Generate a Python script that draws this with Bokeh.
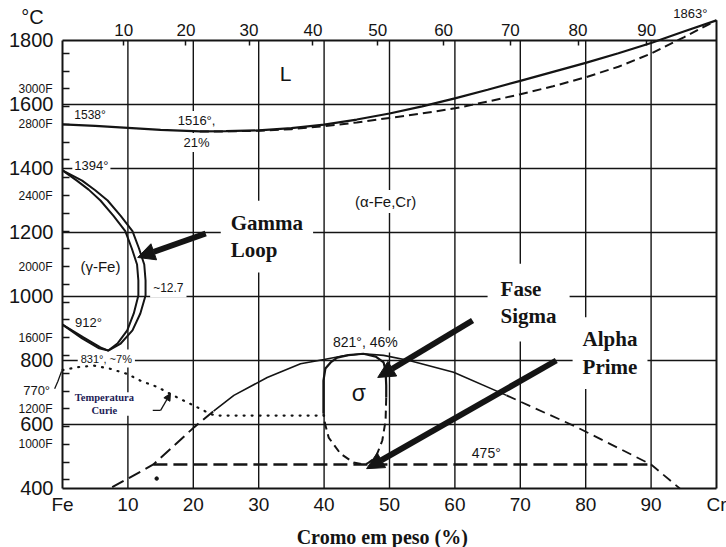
from bokeh.plotting import figure
from bokeh.models import LinearAxis, FixedTicker, Range1d, Arrow, NormalHead
from bokeh.core.properties import value
from bokeh.embed import file_html
from bokeh.resources import INLINE

# ---------------- Fe-Cr phase diagram data (wt% Cr, deg C) ----------------
T_MELT_FE = 1538
T_MELT_CR = 1863
T_MIN_LIQ, CR_MIN_LIQ = 1516, 21
T_A4_FE = 1394
T_A3_FE = 912
T_LOOP_MIN, CR_LOOP_MIN = 831, 7
CR_LOOP_MAX = 12.7
T_CURIE_FE = 770
T_SIGMA_MAX, CR_SIGMA_MAX = 821, 46
T_ALPHA_PRIME = 475

liquidus_cr = [0, 5, 10, 15, CR_MIN_LIQ, 25, 30, 35, 40, 45, 50, 55, 60, 65, 70, 75, 80, 85, 90, 95, 100]
liquidus_t = [T_MELT_FE, 1533, 1527, 1521, T_MIN_LIQ, 1517, 1519, 1526, 1537, 1553, 1572, 1594,
              1619, 1646, 1674, 1702, 1730, 1760, 1792, 1828, T_MELT_CR]
solidus_cr = [CR_MIN_LIQ, 25, 30, 35, 40, 45, 50, 55, 60, 65, 70, 75, 80, 85, 90, 95, 100]
solidus_t = [T_MIN_LIQ, 1516, 1518, 1523, 1532, 1544, 1558, 1572, 1588, 1609, 1632, 1657,
             1685, 1718, 1759, 1810, T_MELT_CR]

# gamma loop: gamma / (alpha+gamma) boundary
gamma_in_cr = [0, 3.2, 5.8, CR_LOOP_MIN, 8.4, 9.9, 10.9, 11.6, 11.6, 11.4, 10.6, 9.6, 7.8, 5.8, 4.0, 2.2, 0]
gamma_in_t = [T_A3_FE, 872, 841, T_LOOP_MIN, 853, 894, 947, 1003, 1050, 1100, 1150, 1204, 1252, 1300,
              1334, 1362, T_A4_FE]
# gamma loop: (alpha+gamma) / alpha boundary
gamma_out_cr = [0, 3.0, 5.6, CR_LOOP_MIN, 8.9, 10.7, 11.9, CR_LOOP_MAX, CR_LOOP_MAX, 12.5, 11.7, 10.7,
                8.9, 6.9, 5.0, 3.0, 0]
gamma_out_t = [T_A3_FE, 869, 838, T_LOOP_MIN, 853, 894, 947, 1003, 1050, 1100, 1150, 1204, 1252, 1300,
               1332, 1362, T_A4_FE]

# magnetic transformation (Curie temperature)
curie_cr = [0, 2.2, 4.8, 7.3, 9.9, 11.9, 14.5, 17.5, 20.1, 22.6, 23.4, 30, 40]
curie_t = [T_CURIE_FE, 779, 784, 774, 758, 737, 717, 685, 659, 633, 628, 628, 628]

# sigma phase field
sigma_solid_cr = [39.9, 39.9, 39.9, 40.2, 41.0, 42.0, 43.7, CR_SIGMA_MAX, 47.9, 49.1, 49.4, 49.5, 49.5]
sigma_solid_t = [634, 691, 737, 775, 794, 809, 817, T_SIGMA_MAX, 812, 794, 769, 722, 684]
sigma_dash_cr = [49.5, 49.4, 48.9, 47.9, 46.6, 46.0, 44.5, 42.5, 40.7, 40.1, 39.9]
sigma_dash_t = [684, 612, 550, 497, 478, T_ALPHA_PRIME, 481, 509, 559, 606, 634]

# alpha / (alpha + sigma) and (alpha + alpha') boundaries
dome_left_cr = [7.6, 13.9, 20.1, 23.1]
dome_left_t = [404, T_ALPHA_PRIME, 591, 642]
dome_top_cr = [23.1, 26.2, 31.3, 36.4, 40, 43, CR_SIGMA_MAX, 49.1, 53, 59.8, 67.9]
dome_top_t = [642, 691, 747, 790, 803, 815, T_SIGMA_MAX, 816, 800, 763, 691]
dome_right_cr = [67.9, 78.6, 90, 94.4]
dome_right_t = [691, 592, T_ALPHA_PRIME, 400]

alpha_prime_cr = [13.9, 90]
stray_dot_cr, stray_dot_t = [14.4], [431]

# axes
wt_ticks = [0, 10, 20, 30, 40, 50, 60, 70, 80, 90, 100]
grid_wt = [10, 20, 30, 40, 50, 60, 70, 80, 90]
celsius_ticks = [400, 600, 800, 1000, 1200, 1400, 1600, 1800]
grid_celsius = [600, 800, 1000, 1200, 1400, 1600]
at_pct_ticks = [10, 20, 30, 40, 50, 60, 70, 80, 90]
fahrenheit_ticks = list(range(800, 3300, 100))
fahrenheit_labels = [3000, 2800, 2400, 2000, 1600, 1200, 1000]

M_FE, M_CR = 55.845, 51.996


def at_to_wt(a):
    return 100.0 * a * M_CR / (a * M_CR + (100 - a) * M_FE)


def f_to_c(f):
    return (f - 32) * 5.0 / 9.0


INK = "#141414"
SANS = "Liberation Sans"
SERIF = "Liberation Serif"

# the frame fills the page; every scale is pinned to the diagram's edges
p = figure(width=726, height=547, x_range=Range1d(-9.48, 101.53), y_range=Range1d(215.6, 1925),
           output_backend="svg", toolbar_location=None,
           x_axis_location=None, y_axis_location=None,
           min_border_left=0, min_border_right=0, min_border_top=0, min_border_bottom=0)
p.outline_line_color = None
p.background_fill_color = "white"
p.border_fill_color = "white"
for g in p.grid:
    g.visible = False

# temperature axis (deg C) along the iron edge
yax = LinearAxis(ticker=FixedTicker(ticks=celsius_ticks), fixed_location=0, axis_line_color=None,
                 major_tick_in=0, major_tick_out=0, minor_tick_in=0, minor_tick_out=0,
                 major_label_standoff=9, major_label_text_font=SANS,
                 major_label_text_font_size="20px", major_label_text_color=INK)
p.add_layout(yax, "left")

# Fahrenheit scale: a tick every 100 F, labelled where there is room
f_pos = [f_to_c(f) for f in fahrenheit_ticks]
f_over = {pos: (f"{f}F" if f in fahrenheit_labels else "") for pos, f in zip(f_pos, fahrenheit_ticks)}
fax = LinearAxis(ticker=FixedTicker(ticks=f_pos), fixed_location=0, axis_line_color=None,
                 major_tick_in=7, major_tick_out=0, minor_tick_in=0, minor_tick_out=0,
                 major_tick_line_color=INK, major_tick_line_width=1.3,
                 major_label_overrides=f_over, major_label_standoff=10, major_label_text_font=SANS,
                 major_label_text_font_size="12px", major_label_text_color=INK)
p.add_layout(fax, "left")

# composition axis (wt% Cr) along the 400 deg edge
xax = LinearAxis(ticker=FixedTicker(ticks=wt_ticks), fixed_location=400, axis_line_color=None,
                 major_tick_in=0, major_tick_out=0, minor_tick_in=0, minor_tick_out=0,
                 major_label_overrides={0: "Fe", 100: "Cr"},
                 major_label_standoff=6, major_label_text_font=SANS,
                 major_label_text_font_size="19px", major_label_text_color=INK)
p.add_layout(xax, "below")

# atomic percent scale along the 1800 deg line
top_pos = [at_to_wt(a) for a in at_pct_ticks]
tax = LinearAxis(ticker=FixedTicker(ticks=top_pos), fixed_location=1800, axis_line_color=None,
                 major_tick_in=5, major_tick_out=0, minor_tick_in=0, minor_tick_out=0,
                 major_tick_line_color=INK, major_tick_line_width=1.5,
                 major_label_overrides={pos: str(a) for pos, a in zip(top_pos, at_pct_ticks)},
                 major_label_standoff=4, major_label_text_font=SANS,
                 major_label_text_font_size="17px", major_label_text_color=INK)
p.add_layout(tax, "above")

# grid
p.segment(x0=grid_wt, y0=[400] * len(grid_wt), x1=grid_wt, y1=[1800] * len(grid_wt),
          line_color=INK, line_width=1.4)
p.segment(x0=[0] * len(grid_celsius), y0=grid_celsius, x1=[100] * len(grid_celsius), y1=grid_celsius,
          line_color=INK, line_width=1.4)


# labels with white boxes
def tag(x, y, text, size, align="center", font=SANS, style="normal", pad=2, color=INK):
    p.text(x=[x], y=[y], text=[text], text_font=value(font), text_font_size=value(size),
           text_font_style=style, text_align=align, text_baseline="middle", text_color=color,
           background_fill_color="white", padding=pad, text_line_height=1.15)


tag(-4.6, 1872, "°C", "20px")
tag(-1.9, 706, f"{T_CURIE_FE}°", "13px", align="right", pad=0)
tag(1.5, 1566, f"{T_MELT_FE}°", "12px", align="left")
tag(20.5, 1550, f"{T_MIN_LIQ}°,", "13px")
tag(20.5, 1481, f"{CR_MIN_LIQ}%", "13px")
tag(1.5, 1409, f"{T_A4_FE}°", "13px", align="left")
tag(34.1, 1697, "L", "21px")
tag(49.4, 1297, "(α-Fe,Cr)", "15px", pad=3)
tag(5.8, 1094, "(γ-Fe)", "15px")
tag(13.4, 1028, f"~{CR_LOOP_MAX}", "12px", align="left", pad=3)
tag(1.6, 919, f"{T_A3_FE}°", "13px", align="left")
tag(6.7, 806, f"{T_LOOP_MIN}°, ~{CR_LOOP_MIN}%", "11px", pad=3)
tag(46.3, 859, f"{T_SIGMA_MAX}°, {CR_SIGMA_MAX}%", "14px", pad=3)
tag(45.3, 697, "σ", "23px")
tag(64.8, 512, f"{T_ALPHA_PRIME}°", "14px")
tag(96.0, 1884, f"{T_MELT_CR}°", "13px")
tag(6.4, 664, "Temperatura\nCurie", "10.5px", font=SERIF, style="bold", color="#1b1b55", pad=0)
tag(24.2, 1187, "Gamma\nLoop", "21px", align="left", font=SERIF, style="bold", pad=10)
tag(65.0, 981, "Fase\nSigma", "21px", align="left", font=SERIF, style="bold", pad=13)
tag(78.0, 823, "Alpha\nPrime", "21px", align="left", font=SERIF, style="bold", pad=10)
tag(48.9, 247, "Cromo em peso (%)", "20px", font=SERIF, style="bold", pad=0)

# phase boundaries
p.line(liquidus_cr, liquidus_t, line_color=INK, line_width=2.2)
p.line(solidus_cr, solidus_t, line_color=INK, line_width=2, line_dash="9 5")
p.line(gamma_in_cr, gamma_in_t, line_color=INK, line_width=2)
p.line(gamma_out_cr, gamma_out_t, line_color=INK, line_width=2)
p.line(curie_cr, curie_t, line_color=INK, line_width=2.2, line_dash="1 7", line_cap="round")
p.line(sigma_solid_cr, sigma_solid_t, line_color=INK, line_width=2.2)
p.line(sigma_dash_cr, sigma_dash_t, line_color=INK, line_width=2, line_dash="8 5")
p.line(dome_left_cr, dome_left_t, line_color=INK, line_width=2, line_dash="13 6")
p.line(dome_top_cr, dome_top_t, line_color=INK, line_width=1.6)
p.line(dome_right_cr, dome_right_t, line_color=INK, line_width=1.8, line_dash="10 6")
p.line(alpha_prime_cr, [T_ALPHA_PRIME] * 2, line_color=INK, line_width=2.4, line_dash="14 6")
p.scatter(stray_dot_cr, stray_dot_t, size=3.5, color=INK)

# frame (the chromium edge runs up to its melting point)
p.segment(x0=[0, 0, 0, 100], y0=[400, 400, 1800, 400], x1=[100, 0, 100, 100],
          y1=[400, 1800, 1800, T_MELT_CR], line_color=INK, line_width=2)

# leader from the 770 deg note to the Curie line
p.line([-1.2, -0.7, -0.15], [712, 735, 766], line_color=INK, line_width=1.3)

# pointer arrows
for xs, ys, xe, ye in [(21.9, 1197, 11.5, 1122), (62.7, 925, 48.2, 747), (75.5, 800, 46.5, 462)]:
    p.add_layout(Arrow(end=NormalHead(size=17, fill_color=INK, line_color=INK),
                       x_start=xs, y_start=ys, x_end=xe, y_end=ye, line_color=INK, line_width=6))
p.segment(x0=[13.8], y0=[644], x1=[15.0], y1=[644], line_color=INK, line_width=1.3)
p.add_layout(Arrow(end=NormalHead(size=7, fill_color=INK, line_color=INK),
                   x_start=15.0, y_start=644, x_end=16.5, y_end=697, line_color=INK, line_width=1.3))

open("out.html", "w").write(file_html(p, INLINE))
